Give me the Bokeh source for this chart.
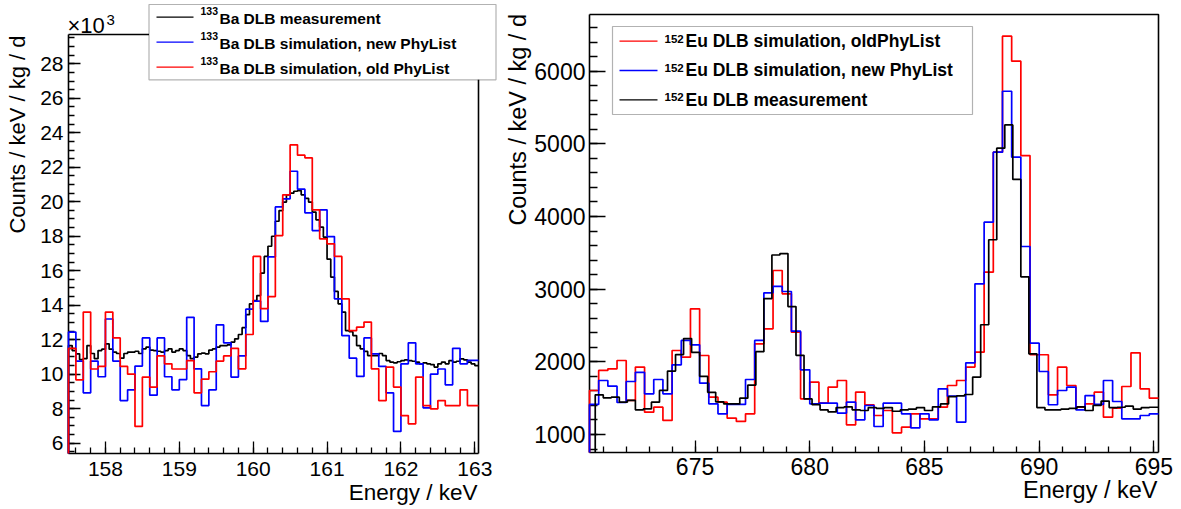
import numpy as np
from bokeh.plotting import figure
from bokeh.layouts import row
from bokeh.models import (Range1d, FixedTicker, Label, BoxAnnotation, Arrow)
from bokeh.embed import file_html
from bokeh.resources import INLINE

# ---------------- data ----------------
# Left panel: 133Ba, counts / keV / kg / d in units of 10^3
ba_sim_start, ba_sim_width = 157.5, 0.1
ba_meas_start, ba_meas_width = 157.5, 0.05
ba_measurement = [
    11.66, 11.37, 11.18, 10.85, 10.9, 11.66, 11.2, 10.9, 11.37, 11.45,
    11.76, 11.45, 11.28, 11.2, 10.93, 11.2, 11.28, 11.28, 11.33, 11.2,
    11.47, 11.57, 11.4, 11.37, 11.33, 11.28, 11.37, 11.47, 11.28, 11.37,
    11.47, 11.37, 11.08, 10.9, 10.99, 11.18, 11.22, 11.18, 11.4, 11.47,
    11.57, 11.66, 11.66, 11.7, 11.86, 12.05, 12.3, 12.7, 13.45, 14.08,
    14.27, 14.56, 15.86, 16.83, 17.42, 18.0, 18.87, 19.49, 19.98, 20.4,
    20.5, 20.61, 20.65, 20.4, 20.2, 19.98, 19.4, 18.95, 18.53, 17.95,
    16.67, 15.63, 14.8, 14.08, 13.6, 12.53, 12.46, 12.24, 11.66, 11.47,
    11.32, 11.08, 11.08, 11.08, 11.2, 11.08, 10.79, 10.7, 10.66, 10.72,
    10.79, 10.83, 10.79, 10.75, 10.7, 10.6, 10.66, 10.6, 10.56, 10.41,
    10.6, 10.7, 10.6, 10.79, 10.7, 10.75, 10.89, 10.83, 10.7, 10.6,
    10.5, 10.5]
ba_sim_new = [
    12.44, 10.76, 8.92, 10.76, 9.85, 13.2, 10.76, 8.47, 9.09, 10.47,
    12.1, 8.78, 12.1, 9.85, 9.09, 9.69, 13.3, 10.31, 8.18, 9.09,
    12.86, 11.82, 9.83, 11.06, 13.77, 14.24, 13.06, 16.8, 19.7, 20.17,
    21.77, 20.73, 19.36, 18.33, 19.53, 17.98, 14.37, 12.24, 10.93, 9.87,
    12.1, 11.18, 10.45, 8.92, 6.68, 10.6, 11.82, 10.6, 8.05, 10.0,
    10.3, 9.38, 11.5, 10.6, 10.8, 10.8]
ba_sim_old = [
    11.5, 9.67, 13.6, 10.3, 10.45, 13.6, 12.1, 10.45, 10.0, 6.97,
    9.83, 9.25, 11.06, 10.6, 10.3, 10.3, 10.79, 8.92, 9.71, 10.14,
    10.76, 11.06, 11.5, 10.31, 12.3, 16.83, 13.8, 14.5, 18.04, 20.4,
    23.3, 22.7, 22.55, 19.53, 17.85, 17.56, 16.83, 14.37, 12.53, 12.73,
    13.02, 10.31, 8.47, 10.41, 9.25, 7.6, 7.12, 9.83, 8.18, 7.99,
    8.47, 8.18, 8.18, 9.09, 8.18, 8.18]
ba_x_ticks = [158, 159, 160, 161, 162, 163]
ba_y_ticks = [6, 8, 10, 12, 14, 16, 18, 20, 22, 24, 26, 28]
ba_labels = ["Ba DLB measurement", "Ba DLB simulation, new PhyList",
             "Ba DLB simulation, old PhyList"]

# Right panel: 152Eu, counts / keV / kg / d
eu_sim_start, eu_sim_width = 670.4, 0.4
eu_meas_start, eu_meas_width = 670.65, 0.35
eu_sim_old = [
    1605, 1881, 1904, 2018, 1468, 1927, 1307, 1376, 1193, 2156,
    2064, 2729, 2087, 1514, 1445, 1225, 1179, 1284, 2248, 2454,
    3257, 2936, 2408, 1491, 1720, 1431, 1651, 1743, 1133, 1583,
    1408, 1261, 1330, 1023, 1101, 1284, 1216, 1216, 1376, 1674,
    1743, 1927, 2133, 3234, 4885, 6482, 6138, 4839, 2097, 2097,
    1546, 1926, 1674, 1376, 1422, 1582, 1238, 1362, 1660, 2124,
    1629, 1500]
eu_sim_new = [
    1413, 1743, 1665, 1440, 1729, 1856, 1560, 1757, 1560, 1959,
    2294, 2234, 1706, 1422, 1284, 1413, 1413, 1757, 2294, 2950,
    3037, 2968, 2422, 1890, 1422, 1431, 1431, 1294, 1445, 1202,
    1399, 1110, 1431, 1431, 1284, 1092, 1284, 1202, 1629, 1527,
    1169, 1986, 3073, 3922, 4885, 5724, 4816, 3587, 2256, 1867,
    1409, 1605, 1651, 1340, 1536, 1413, 1743, 1454, 1216, 1216,
    1261, 1284]
eu_measurement = [
    1546, 1505, 1514, 1445, 1468, 1339, 1353, 1445, 1606, 1872,
    2100, 2320, 2130, 1800, 1580, 1450, 1420, 1420, 1500, 1680,
    2140, 2870, 3470, 3490, 2760, 2090, 1490, 1410, 1340, 1310,
    1370, 1380, 1340, 1330, 1370, 1360, 1370, 1320, 1340, 1350,
    1370, 1330, 1380, 1420, 1520, 1530, 1550, 1790, 2510, 3680,
    4940, 5260, 4510, 3170, 2110, 1370, 1340, 1340, 1350, 1360,
    1380, 1330, 1400, 1460, 1370, 1375, 1390, 1350, 1370, 1375,
    1375]
eu_x_ticks = [675, 680, 685, 690, 695]
eu_y_ticks = [1000, 2000, 3000, 4000, 5000, 6000]
eu_labels = ["Eu DLB simulation, oldPhyList", "Eu DLB simulation, new PhyList",
             "Eu DLB measurement"]

RED, BLUE, BLACK = "#ff0000", "#0000ff", "#000000"
FONT = "Liberation Sans"
BASE_SHIFT = 0.32   # empirical: Label baseline sits this many font-sizes low


class Panel:
    """A figure whose plotting area fills the whole canvas; the visible
    (ROOT-style) frame is the data box [x0,x1]x[y0,y1] placed at the given
    pixel box, with axes pinned to its left and bottom edges."""

    def __init__(self, w, h, xoff, box_px, xr, yr):
        self.w, self.h, self.xoff = w, h, xoff
        (px0, py0, px1, py1) = box_px          # left, top, right, bottom (page px)
        self.xr, self.yr = xr, yr
        self.sx = (px1 - px0) / (xr[1] - xr[0])
        self.sy = (py1 - py0) / (yr[1] - yr[0])
        self.px0, self.py1 = px0 - xoff, py1
        full_x = (xr[0] - self.px0 / self.sx, xr[0] + (w - self.px0) / self.sx)
        full_y = (yr[0] - (h - py1) / self.sy, yr[0] + py1 / self.sy)
        p = figure(width=w, height=h, x_range=Range1d(*full_x), y_range=Range1d(*full_y),
                   output_backend="svg", toolbar_location=None, title=None,
                   min_border=0, min_border_left=0, min_border_right=0,
                   min_border_top=0, min_border_bottom=0)
        p.xgrid.visible = False
        p.ygrid.visible = False
        p.outline_line_color = None
        p.background_fill_color = "white"
        p.border_fill_color = "white"
        self.p = p

    def x(self, px):
        return self.xr[0] + (px - self.xoff - self.px0) / self.sx

    def y(self, py):
        return self.yr[0] + (self.py1 - py) / self.sy


def hist_xy(start, width, values, xhi, floor):
    v = np.asarray(values, dtype=float)
    edges = start + width * np.arange(len(v) + 1)
    keep = edges[:-1] < xhi
    v = v[keep]
    e = edges[:len(v) + 1].copy()
    e[-1] = min(e[-1], xhi)
    xs = np.concatenate([[e[0]], e])
    ys = np.concatenate([[floor], v, [v[-1]]])
    return xs, ys


def style_axis(ax, ticks, minor, size, standoff, maj_len, min_len, loc, bounds):
    ax.fixed_location = loc
    ax.bounds = bounds
    ax.ticker = FixedTicker(ticks=ticks, minor_ticks=minor)
    ax.axis_line_color = "black"
    ax.axis_line_width = 1.6
    ax.major_tick_in = maj_len
    ax.major_tick_out = 0
    ax.minor_tick_in = min_len
    ax.minor_tick_out = 0
    ax.major_tick_line_color = "black"
    ax.minor_tick_line_color = "black"
    ax.major_tick_line_width = 1.3
    ax.minor_tick_line_width = 1.3
    ax.major_label_text_font = FONT
    ax.major_label_text_font_size = size
    ax.major_label_text_color = "black"
    ax.major_label_standoff = standoff


def add_label(pn, px, py, text, size, bold=False, align="left", angle=0.0):
    if angle == 0.0:
        py = py - BASE_SHIFT * size
    else:
        px = px - BASE_SHIFT * size
    pn.p.add_layout(Label(x=pn.x(px), y=pn.y(py), text=text, text_font=FONT,
                          text_font_size=f"{size}px",
                          text_font_style="bold" if bold else "normal",
                          text_align=align, text_baseline="alphabetic",
                          angle=angle, text_color="black"))


def frame_top_right(pn):
    (x0, x1), (y0, y1) = pn.xr, pn.yr
    pn.p.line([x0, x1, x1], [y1, y1, y0], line_color="black", line_width=1.6)


def draw_hists(pn, specs):
    for vals, start, width, col in specs:
        xs, ys = hist_xy(start, width, vals, pn.xr[1], pn.yr[0])
        pn.p.step(xs, ys, mode="after", line_color=col, line_width=1.7, level="overlay")


# ---------------- left panel ----------------
L = Panel(500, 509, 0, (68, 34, 478, 453), (157.5, 163.05), (5.4, 29.7))
frame_top_right(L)
draw_hists(L, ((ba_measurement, ba_meas_start, ba_meas_width, BLACK),
               (ba_sim_new, ba_sim_start, ba_sim_width, BLUE),
               (ba_sim_old, ba_sim_start, ba_sim_width, RED)))

style_axis(L.p.xaxis[0], ba_x_ticks, list(np.round(np.arange(157.6, 163.05, 0.2), 2)),
           "21px", 8, 12, 6, L.yr[0], L.xr)
style_axis(L.p.yaxis[0], ba_y_ticks, list(np.arange(5.5, 29.7, 0.5)),
           "21px", 5, 12, 6, L.xr[0], L.yr)

add_label(L, 24, 35, "Counts / keV / kg / d", 22, align="right", angle=np.pi / 2)
add_label(L, 477, 499, "Energy / keV", 22.5, align="right")
add_label(L, 67, 32.5, "\u00d710", 22)
add_label(L, 106, 24, "3", 15)

L.p.add_layout(BoxAnnotation(left=L.x(148.5), right=L.x(495.5), top=L.y(4), bottom=L.y(79.3),
                             fill_color="white", fill_alpha=1.0,
                             line_color="black", line_width=1.2))
for i, (lab, col) in enumerate(zip(ba_labels, (BLACK, BLUE, RED))):
    yc = 16.7 + 25 * i
    L.p.add_layout(Arrow(end=None, x_start=L.x(156), x_end=L.x(193),
                         y_start=L.y(yc), y_end=L.y(yc), line_color=col, line_width=1.3))
    add_label(L, 200, 13.8 + 25 * i, "133", 10.5, bold=True)
    add_label(L, 219, 22.7 + 25 * i, lab, 15.5, bold=True)

# ---------------- right panel ----------------
R = Panel(681, 509, 500, (589, 14, 1158, 452), (670.4, 695.2), (752, 6780))
frame_top_right(R)
draw_hists(R, ((eu_sim_old, eu_sim_start, eu_sim_width, RED),
               (eu_sim_new, eu_sim_start, eu_sim_width, BLUE),
               (eu_measurement, eu_meas_start, eu_meas_width, BLACK)))

style_axis(R.p.xaxis[0], eu_x_ticks, list(range(671, 696)), "23px", 5, 12, 6, R.yr[0], R.xr)
style_axis(R.p.yaxis[0], eu_y_ticks, list(range(800, 6800, 200)), "23px", 4, 16, 8, R.xr[0], R.yr)

add_label(R, 525, 13.5, "Counts / keV / kg / d", 23.5, align="right", angle=np.pi / 2)
add_label(R, 1157, 497.5, "Energy / keV", 23.5, align="right")

R.p.add_layout(BoxAnnotation(left=R.x(612), right=R.x(972), top=R.y(26), bottom=R.y(114),
                             fill_color="white", fill_alpha=1.0,
                             line_color="black", line_width=1.2))
for i, (lab, col) in enumerate(zip(eu_labels, (RED, BLUE, BLACK))):
    yc = 40.7 + 29.3 * i
    R.p.add_layout(Arrow(end=None, x_start=R.x(619), x_end=R.x(657),
                         y_start=R.y(yc), y_end=R.y(yc), line_color=col, line_width=1.3))
    add_label(R, 664, 41.7 + 29.3 * i, "152", 11.5, bold=True)
    add_label(R, 685, 46 + 29.3 * i, lab, 17.5, bold=True)

layout = row(L.p, R.p)
open("out.html", "w").write(file_html(layout, INLINE))
